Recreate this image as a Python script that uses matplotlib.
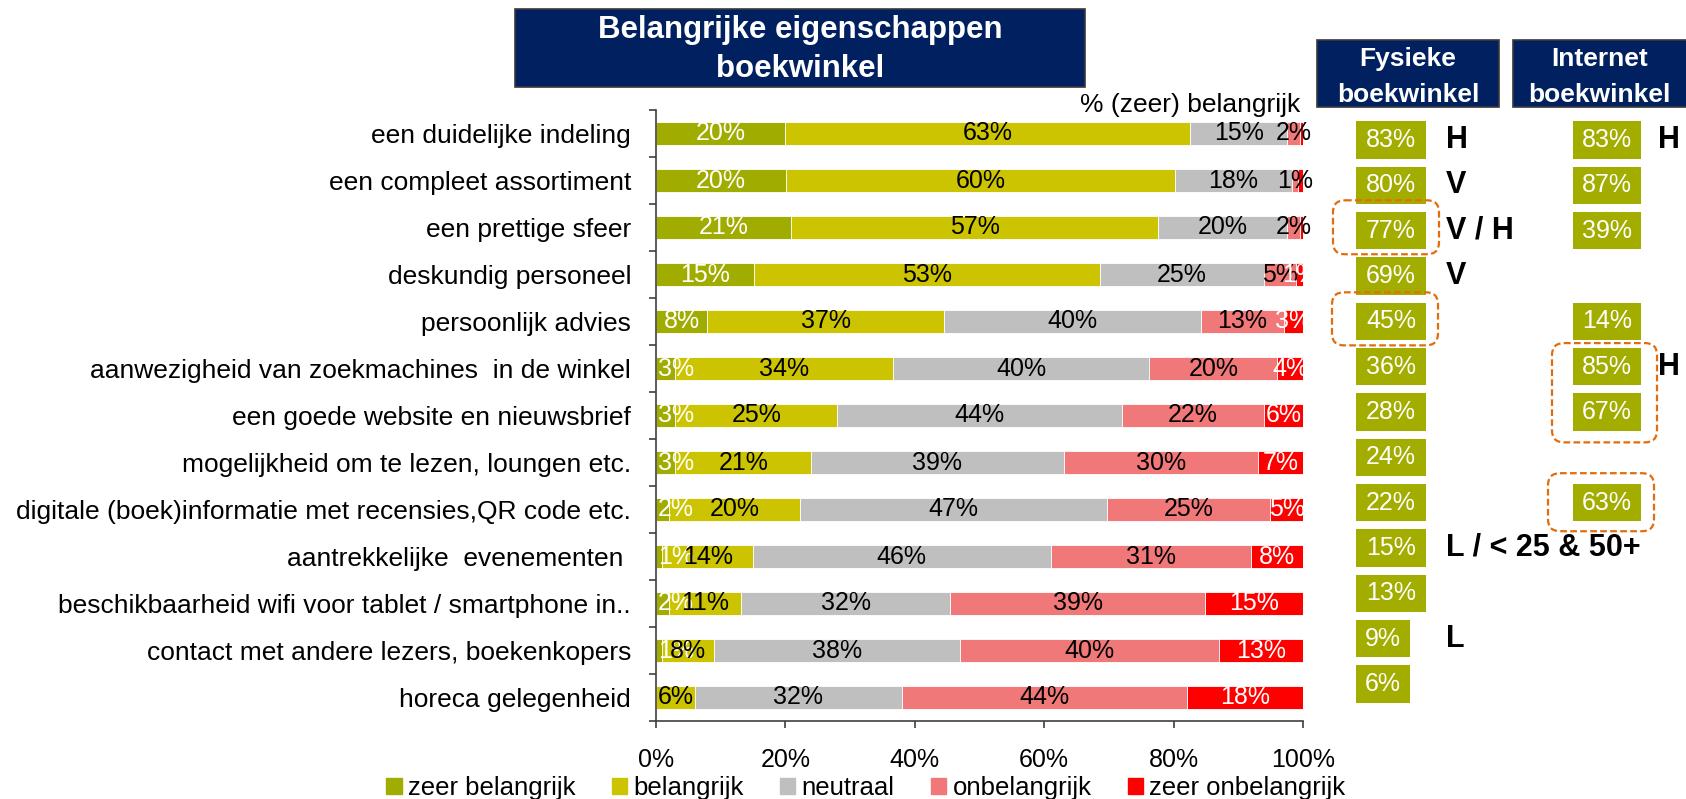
import matplotlib
matplotlib.use('Agg')
import matplotlib.pyplot as plt
from matplotlib.patches import Patch, Rectangle, FancyBboxPatch
import numpy as np

plt.rcParams['font.family'] = ['Liberation Sans', 'DejaVu Sans']

categories = [
    'een duidelijke indeling',
    'een compleet assortiment',
    'een prettige sfeer',
    'deskundig personeel',
    'persoonlijk advies',
    'aanwezigheid van zoekmachines  in de winkel',
    'een goede website en nieuwsbrief',
    'mogelijkheid om te lezen, loungen etc.',
    'digitale (boek)informatie met recensies,QR code etc.',
    'aantrekkelijke  evenementen ',
    'beschikbaarheid wifi voor tablet / smartphone in..',
    'contact met andere lezers, boekenkopers',
    'horeca gelegenheid',
]
zeer_belangrijk = [20, 20, 21, 15, 8, 3, 3, 3, 2, 1, 2, 1, 0]
belangrijk = [63, 60, 57, 53, 37, 34, 25, 21, 20, 14, 11, 8, 6]
neutraal = [15, 18, 20, 25, 40, 40, 44, 39, 47, 46, 32, 38, 32]
onbelangrijk = [2, 1, 2, 5, 13, 20, 22, 30, 25, 31, 39, 40, 44]
zeer_onbelangrijk = [0.5, 0.7, 0.5, 1, 3, 4, 6, 7, 5, 8, 15, 13, 18]

series_names = ['zeer belangrijk', 'belangrijk', 'neutraal', 'onbelangrijk', 'zeer onbelangrijk']
colors = ['#A0AC00', '#CCC400', '#BFBFBF', '#F07878', '#FF0000']
text_colors = ['white', 'black', 'black', 'black', 'white']

fysiek_pct = [83, 80, 77, 69, 45, 36, 28, 24, 22, 15, 13, 9, 6]
internet_pct = [83, 87, 39, None, 14, 85, 67, None, 63, None, None, None, None]
fysiek_notes = ['H', 'V', 'V / H', 'V', '', '', '', '', '', 'L / < 25 & 50+', '', 'L', '']
internet_notes = ['H', '', '', '', '', 'H', '', '', '', '', '', '', '']

# dashed highlight frames: (x0, x1) in px, (row_top, row_bottom)
highlights = [(1333, 1439, 1.33, 2.52), (1332, 1438, 3.36, 4.53),
              (1552, 1657, 4.48, 6.67), (1548, 1654, 7.35, 8.63)]

W, H = 1686, 799
NAVY = '#002060'
OLIVE = '#A2AD00'
AXCOL = '#404040'


def fx(x):
    return x / W


def fy(y):
    return 1 - y / H


fig = plt.figure(figsize=(W / 100, H / 100), dpi=100)

# stacked bar chart
ax = fig.add_axes([fx(656), fy(721), (1303 - 656) / W, (721 - 110) / H])
data = np.array([zeer_belangrijk, belangrijk, neutraal, onbelangrijk, zeer_onbelangrijk], float)
shares = data / data.sum(axis=0) * 100
rows = np.arange(len(categories))
left = np.zeros(len(categories))
for j in range(len(series_names)):
    bars = ax.barh(rows, shares[j], left=left, height=0.5, color=colors[j],
                   edgecolor='white', linewidth=0.6, label=series_names[j])
    if j == 0:
        # small first segments: label pushed inside the plot area like Excel does
        for i, v in enumerate(data[j]):
            if v < 1:
                continue
            if shares[j][i] < 5:
                ax.text(0.3, i, f'{v:g}%', ha='left', va='center', color=text_colors[j], fontsize=18)
            else:
                ax.text(shares[j][i] / 2, i, f'{v:g}%', ha='center', va='center',
                        color=text_colors[j], fontsize=18)
    else:
        labels = [f'{v:g}%' if v >= 1 else '' for v in data[j]]
        anns = ax.bar_label(bars, labels=labels, label_type='center', color=text_colors[j], fontsize=18)
        if j == len(series_names) - 1:
            for a in anns:
                a.set_clip_on(True)
    left += shares[j]

ax.set_xlim(0, 100)
ax.set_ylim(len(categories) - 0.5, -0.5)
ax.set_xticks(range(0, 101, 20))
ax.set_xticklabels([f'{t}%' for t in range(0, 101, 20)])
ax.set_yticks(rows)
ax.set_yticklabels(categories, fontsize=19)
ax.set_yticks(np.arange(-0.5, len(categories), 1), minor=True)
ax.tick_params(axis='y', which='major', length=0, pad=18)
ax.tick_params(axis='y', which='minor', length=5, width=1.2, color=AXCOL)
ax.tick_params(axis='x', length=5, width=1.2, color=AXCOL, labelsize=18, pad=14.5)
for s in ['top', 'right']:
    ax.spines[s].set_visible(False)
for s in ['left', 'bottom']:
    ax.spines[s].set_color(AXCOL)
    ax.spines[s].set_linewidth(1.2)

fig.text(fx(1300), fy(105), '% (zeer) belangrijk', ha='right', va='center', fontsize=19)

# title box
fig.patches.append(Rectangle((fx(515), fy(87)), (1085 - 515) / W, (87 - 9) / H,
                             transform=fig.transFigure, facecolor=NAVY, edgecolor='#3a3a3a', lw=1.2))
fig.text(fx(800), fy(49.5), 'Belangrijke eigenschappen\nboekwinkel', ha='center', va='center',
         color='white', fontsize=22.5, fontweight='bold', linespacing=1.36)

# column headers
for x0, x1, name in [(1317, 1499, 'Fysieke\nboekwinkel'), (1513, 1692, 'Internet\nboekwinkel')]:
    fig.patches.append(Rectangle((fx(x0), fy(107)), (x1 - x0) / W, (107 - 40) / H,
                                 transform=fig.transFigure, facecolor=NAVY, edgecolor='#3a3a3a', lw=1.2))
    fig.text(fx((x0 + min(x1, 1686)) / 2), fy(77), name, ha='center', va='center',
             color='white', fontsize=19, fontweight='bold', linespacing=1.65)

# right-hand summary columns
ax2 = fig.add_axes([fx(1300), fy(706.65), 386 / W, (706.65 - 117.35) / H])
ax2.set_xlim(1300, 1686)
ax2.set_ylim(len(categories) - 0.5, -0.5)
ax2.axis('off')

fys_w = [70 if v >= 10 else 54 for v in fysiek_pct]
ax2.barh(rows, fys_w, left=1356, height=0.82, color=OLIVE)
for i, v in enumerate(fysiek_pct):
    ax2.text(1356 + fys_w[i] / 2, i, f'{v}%', ha='center', va='center', color='white', fontsize=18)

net_rows = [i for i, v in enumerate(internet_pct) if v is not None]
ax2.barh(net_rows, 68, left=1573, height=0.82, color=OLIVE)
for i in net_rows:
    ax2.text(1573 + 34, i, f'{internet_pct[i]}%', ha='center', va='center', color='white', fontsize=18)

for i, note in enumerate(fysiek_notes):
    if note:
        ax2.text(1446, i, note, ha='left', va='center', fontsize=22, fontweight='bold')
for i, note in enumerate(internet_notes):
    if note:
        ax2.text(1658, i, note, ha='left', va='center', fontsize=22, fontweight='bold', clip_on=False)

for x0, x1, y0, y1 in highlights:
    ax2.add_patch(FancyBboxPatch((x0, y0), x1 - x0, y1 - y0,
                                 boxstyle='round,pad=0,rounding_size=12', mutation_aspect=1 / 45.3,
                                 fill=False, edgecolor='#E46C0A', lw=1.6,
                                 linestyle=(0, (3, 1.5)), clip_on=False))

handles = [Patch(color=c) for c in colors]
fig.legend(handles, series_names, loc='center', bbox_to_anchor=(fx(866), fy(788)), ncol=5,
           frameon=False, fontsize=18.5, handlelength=0.6, handleheight=0.6,
           handletextpad=0.25, columnspacing=1.4, borderpad=0, borderaxespad=0)

fig.savefig('out.png', dpi=100)
